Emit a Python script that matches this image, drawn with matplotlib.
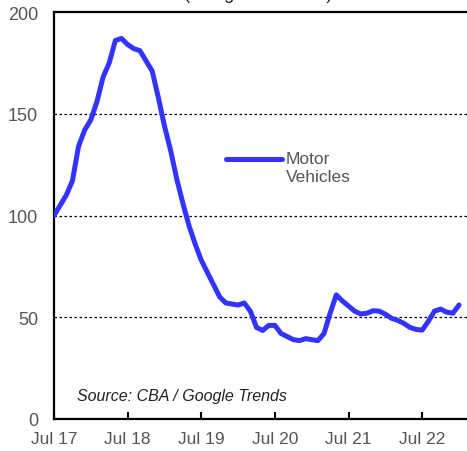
import numpy as np
import matplotlib.pyplot as plt
from matplotlib.lines import Line2D

# monthly index, Jul 2017 onwards
months = np.arange(67)
motor_vehicles = [
    100, 105, 110, 117, 134, 142, 147, 156, 168, 175,
    186, 187, 184, 182, 181, 176, 171, 158, 144, 132,
    118, 106, 95, 86, 78, 72, 66, 60, 57, 56.5,
    56, 57, 53, 45, 43.5, 46, 46, 42, 40.5, 39,
    38.5, 39.5, 39, 38.5, 42, 52, 61, 58, 55.5, 53,
    51.6, 52, 53.2, 53, 51.5, 49.5, 48.5, 47, 45, 44,
    43.7, 48, 53, 54, 52.5, 52, 56,
]
tick_months = [0, 12, 24, 36, 48, 60]
tick_labels = ["Jul 17", "Jul 18", "Jul 19", "Jul 20", "Jul 21", "Jul 22"]
y_ticks = [0, 50, 100, 150, 200]

LINE_COLOR = "#3333ff"
TEXT_GREY = "#555555"

plt.rcParams["font.family"] = ["Liberation Sans", "DejaVu Sans"]

fig = plt.figure(figsize=(4.67, 4.52), dpi=100)
ax = fig.add_axes([54 / 467, 1 - 420 / 452, 1 - 54 / 467, (420 - 13) / 452])

ax.plot(months, motor_vehicles, color=LINE_COLOR, lw=3.6,
        solid_joinstyle="round", solid_capstyle="round", zorder=3)

ax.set_xlim(0, 67.3)
ax.set_ylim(0, 200)
ax.set_yticks(y_ticks)
ax.set_xticks(tick_months)
ax.set_xticklabels(tick_labels)

for v in [50, 100, 150]:
    ax.axhline(v, color="black", lw=0.9, linestyle=(0, (2, 2)), zorder=1)

ax.spines["right"].set_visible(False)
for s in ["left", "bottom", "top"]:
    ax.spines[s].set_linewidth(1.6)
    ax.spines[s].set_color("black")

ax.tick_params(axis="y", length=0, pad=11.5, labelsize=13, labelcolor=TEXT_GREY)
ax.tick_params(axis="x", direction="in", length=5, width=1.5, pad=9,
               labelsize=12.5, labelcolor=TEXT_GREY)

# legend drawn by hand so the key sits level with the first label line
ax.add_line(Line2D([0.4165, 0.552], [0.639, 0.639], transform=ax.transAxes,
                   color=LINE_COLOR, lw=3.6, solid_capstyle="round"))
ax.text(0.5617, 0.639, "Motor", transform=ax.transAxes, fontsize=12.5,
        color=TEXT_GREY, va="center")
ax.text(0.5617, 0.595, "Vehicles", transform=ax.transAxes, fontsize=12.5,
        color=TEXT_GREY, va="center")

ax.text(0.056, 0.057, "Source: CBA / Google Trends", transform=ax.transAxes,
        fontsize=11.5, style="italic", color="#222222", va="center")

fig.text(0.553, 1.003, "(Google searches)", ha="center", va="baseline",
         fontsize=13, color="#222222")

fig.savefig("out.png", dpi=100)
